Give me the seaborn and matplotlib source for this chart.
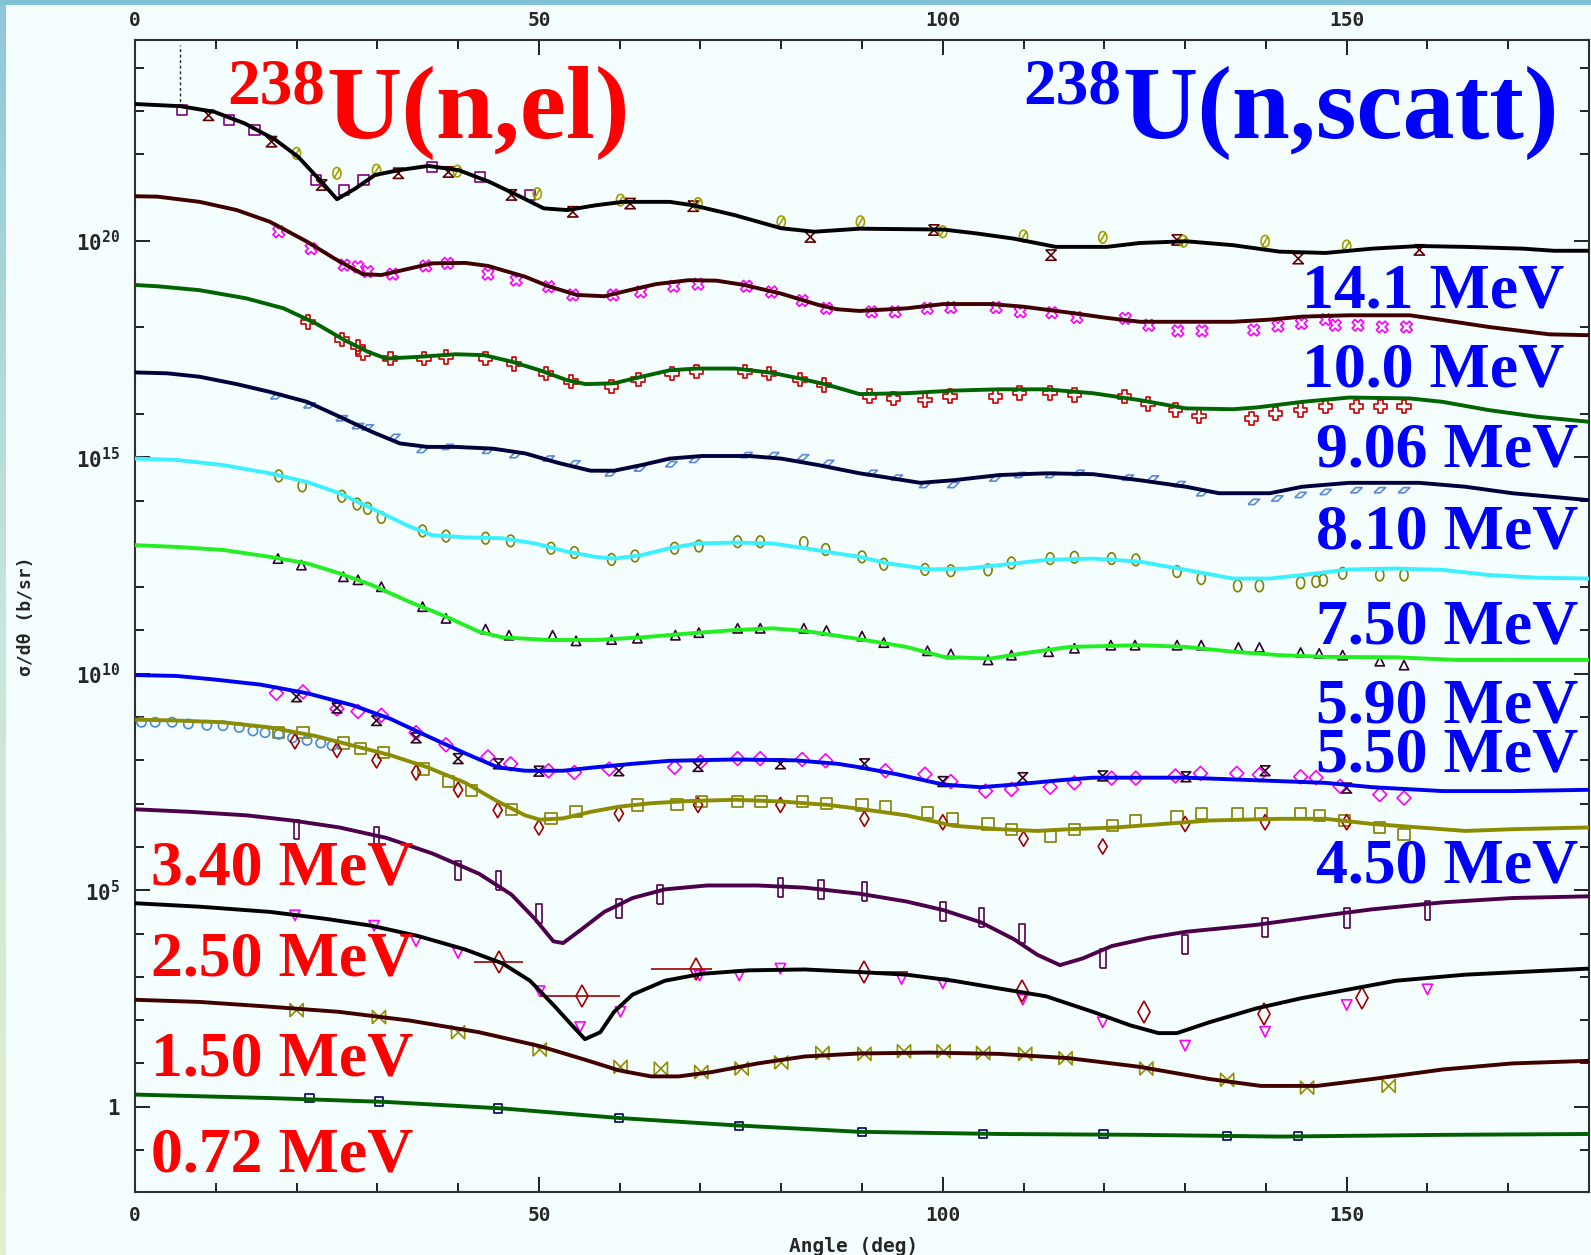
import numpy as np
import pandas as pd
import matplotlib
matplotlib.use("Agg")
import matplotlib.pyplot as plt
import matplotlib.transforms as mtransforms
import seaborn as sns
from matplotlib.ticker import FixedLocator, FixedFormatter, NullFormatter
from matplotlib.path import Path
from matplotlib.colors import LinearSegmentedColormap

# ---------------- data (angles in deg, values as log10 of plotted dσ/dΩ) ----------------
energies = ["14.1", "10.0", "9.06", "8.10", "7.50", "5.90", "5.50", "4.50", "3.40", "2.50", "1.50", "0.72"]

th14_ang = [0, 5.6, 9.8, 13.6, 17.4, 20.2, 23.1, 25.0, 27.3, 29.7, 32.6, 36.3, 40.1, 43.9, 47.7, 50.6, 53.5, 57.0, 60.4, 66.2, 69.1, 74.3, 80.0, 84.1, 89.7, 100.1, 104.2, 108.8, 114.0, 120.3, 124.4, 130.1, 135.9, 141.7, 147.4, 153.2, 159.0, 164.7, 171.7, 175.7, 180.0]
th14_log = [23.16, 23.11, 22.98, 22.71, 22.33, 21.94, 21.36, 20.96, 21.21, 21.52, 21.63, 21.73, 21.63, 21.36, 21.02, 20.75, 20.71, 20.82, 20.90, 20.90, 20.82, 20.59, 20.29, 20.21, 20.28, 20.26, 20.17, 20.05, 19.86, 19.86, 19.95, 19.99, 19.90, 19.75, 19.72, 19.82, 19.88, 19.86, 19.82, 19.77, 19.77]

th10_ang = [0, 2.8, 8.0, 12.6, 16.7, 21.3, 24.7, 28.2, 30.5, 34.0, 36.8, 40.9, 43.7, 48.3, 51.2, 54.7, 58.1, 61.0, 64.5, 68.5, 72.0, 75.4, 80.0, 84.6, 86.9, 89.7, 95.5, 100.1, 105.9, 109.9, 115.7, 120.3, 124.4, 130.1, 135.9, 140.5, 144.6, 150.3, 157.8, 161.9, 167.6, 175.1, 180.0]
th10_log = [21.03, 21.02, 20.90, 20.71, 20.44, 19.98, 19.59, 19.23, 19.21, 19.36, 19.48, 19.49, 19.42, 19.17, 18.95, 18.75, 18.72, 18.85, 19.00, 19.09, 19.08, 18.98, 18.78, 18.52, 18.42, 18.38, 18.44, 18.54, 18.54, 18.48, 18.34, 18.22, 18.13, 18.13, 18.13, 18.18, 18.25, 18.28, 18.28, 18.17, 18.01, 17.84, 17.82]

th906_ang = [0, 2.8, 8.0, 13.8, 18.4, 22.4, 25.9, 28.8, 31.1, 35.1, 39.7, 43.2, 46.6, 50.1, 53.5, 55.8, 59.3, 62.7, 66.2, 69.6, 74.3, 78.9, 82.3, 85.8, 89.7, 95.5, 101.3, 107.0, 112.8, 118.6, 124.4, 130.1, 135.9, 138.8, 144.5, 150.3, 157.8, 161.9, 167.6, 173.4, 180.0]
th906_log = [18.98, 18.95, 18.86, 18.67, 18.44, 18.09, 17.71, 17.44, 17.28, 17.32, 17.38, 17.36, 17.21, 17.01, 16.78, 16.69, 16.71, 16.86, 17.01, 17.05, 17.05, 16.95, 16.82, 16.67, 16.46, 16.48, 16.54, 16.57, 16.57, 16.48, 16.32, 16.13, 16.11, 16.15, 16.28, 16.38, 16.36, 16.28, 16.09, 15.94, 15.82]

th810_ang = [0, 4.0, 8.0, 12.6, 16.7, 21.3, 25.3, 29.3, 32.8, 36.2, 39.7, 44.3, 48.3, 52.4, 56.4, 59.3, 62.7, 66.2, 70.2, 76.0, 80.0, 84.6, 89.7, 93.2, 97.2, 101.3, 107.0, 112.8, 118.6, 124.4, 130.1, 134.2, 140.5, 144.5, 150.3, 159.0, 164.7, 170.5, 180.0]
th810_log = [16.96, 16.94, 16.86, 16.69, 16.51, 16.28, 15.94, 15.59, 15.32, 15.24, 15.24, 15.20, 15.09, 14.87, 14.69, 14.69, 14.82, 14.97, 15.03, 15.03, 14.97, 14.82, 14.63, 14.53, 14.41, 14.47, 14.59, 14.63, 14.61, 14.47, 14.32, 14.17, 14.17, 14.32, 14.41, 14.41, 14.32, 14.17, 14.01]

th750_ang = [0, 5.1, 10.9, 16.7, 21.3, 25.3, 29.3, 34.0, 36.8, 40.9, 45.5, 49.5, 53.5, 57.0, 59.3, 62.7, 66.2, 69.6, 74.3, 78.9, 82.9, 86.9, 89.7, 93.2, 98.4, 103.0, 107.0, 112.8, 118.6, 124.4, 130.1, 135.9, 140.5, 144.5, 150.3, 156.1, 161.9, 167.6, 173.4, 180.0]
th750_log = [14.97, 14.94, 14.82, 14.63, 14.43, 14.17, 13.82, 13.40, 13.20, 13.15, 13.13, 13.01, 12.82, 12.70, 12.66, 12.74, 12.90, 13.01, 13.03, 13.01, 12.90, 12.78, 12.70, 12.55, 12.41, 12.43, 12.51, 12.63, 12.66, 12.59, 12.40, 12.20, 12.20, 12.28, 12.41, 12.43, 12.40, 12.28, 12.22, 12.20]

th590_ang = [0, 5.1, 10.9, 16.7, 21.3, 25.3, 29.3, 34.0, 38.5, 42.6, 45.5, 51.2, 57.0, 62.7, 68.5, 74.3, 78.9, 82.9, 89.7, 95.5, 100.1, 105.9, 109.9, 115.7, 124.4, 130.1, 135.9, 141.7, 147.4, 156.1, 163.6, 170.5, 180.0]
th590_log = [12.97, 12.93, 12.86, 12.70, 12.55, 12.32, 12.05, 11.66, 11.32, 10.97, 10.84, 10.78, 10.78, 10.84, 10.93, 11.01, 11.05, 10.99, 10.80, 10.62, 10.39, 10.35, 10.47, 10.62, 10.66, 10.62, 10.51, 10.43, 10.39, 10.38, 10.32, 10.32, 10.32]

th550_ang = [0, 5.1, 9.7, 15.5, 21.3, 27.0, 31.6, 36.2, 40.9, 44.9, 48.3, 53.0, 57.0, 61.6, 66.2, 74.3, 81.8, 87.0, 89.7, 94.3, 100.1, 104.7, 108.8, 114.5, 118.6, 130.1, 138.8, 147.4, 153.2, 161.9, 170.5, 180.0]
th550_log = [9.97, 9.95, 9.87, 9.75, 9.55, 9.27, 8.96, 8.56, 8.16, 7.84, 7.76, 7.76, 7.84, 7.92, 7.99, 8.02, 8.00, 7.92, 7.84, 7.68, 7.44, 7.38, 7.44, 7.54, 7.60, 7.60, 7.54, 7.48, 7.38, 7.29, 7.29, 7.32]

th450_ang = [0, 5.1, 10.9, 16.7, 22.4, 27.0, 31.6, 36.2, 40.9, 44.9, 48.3, 50.1, 53.0, 56.4, 59.9, 63.9, 68.5, 74.3, 80.0, 85.8, 89.7, 95.5, 101.3, 107.0, 111.7, 115.7, 121.5, 127.2, 133.0, 141.7, 147.4, 153.2, 159.0, 164.7, 170.5, 180.0]
th450_log = [8.94, 8.92, 8.88, 8.76, 8.56, 8.34, 8.12, 7.84, 7.48, 7.05, 6.73, 6.63, 6.66, 6.81, 6.93, 7.01, 7.06, 7.09, 7.05, 6.97, 6.88, 6.73, 6.49, 6.41, 6.37, 6.41, 6.45, 6.53, 6.61, 6.65, 6.65, 6.53, 6.45, 6.37, 6.41, 6.45]

th340_ang = [0, 6.9, 13.8, 19.5, 25.3, 31.1, 36.8, 42.6, 46.6, 49.5, 51.8, 53.0, 55.3, 58.1, 61.6, 65.6, 70.8, 77.1, 82.9, 89.7, 95.5, 100.1, 104.7, 108.8, 111.7, 114.5, 117.4, 120.9, 125.5, 130.1, 138.8, 147.4, 153.2, 161.9, 170.5, 180.0]
th340_log = [6.87, 6.81, 6.73, 6.61, 6.45, 6.21, 5.85, 5.38, 4.90, 4.34, 3.82, 3.78, 4.10, 4.50, 4.82, 5.02, 5.11, 5.11, 5.06, 4.92, 4.74, 4.54, 4.26, 3.87, 3.51, 3.27, 3.43, 3.71, 3.90, 4.04, 4.20, 4.42, 4.56, 4.72, 4.82, 4.86]

th250_ang = [0, 8.0, 16.7, 23.6, 29.3, 35.1, 40.9, 45.5, 48.9, 51.8, 54.1, 55.7, 57.6, 59.3, 61.6, 65.6, 70.2, 76.0, 82.9, 89.7, 95.5, 101.3, 107.0, 112.8, 118.6, 123.2, 126.7, 129.0, 133.0, 138.8, 144.5, 150.3, 156.1, 164.7, 173.4, 180.0]
th250_log = [4.70, 4.62, 4.50, 4.34, 4.18, 3.94, 3.63, 3.31, 2.91, 2.35, 1.88, 1.56, 1.72, 2.19, 2.59, 2.91, 3.07, 3.15, 3.17, 3.11, 3.05, 2.91, 2.73, 2.55, 2.19, 1.88, 1.70, 1.70, 1.95, 2.27, 2.51, 2.71, 2.91, 3.05, 3.13, 3.19]

th150_ang = [0, 8.0, 16.7, 25.3, 34.0, 42.6, 50.1, 55.8, 59.9, 63.9, 67.3, 71.4, 77.1, 82.9, 89.7, 98.4, 107.0, 115.7, 124.4, 133.0, 139.4, 146.3, 153.2, 161.9, 170.5, 180.0]
th150_log = [2.47, 2.42, 2.31, 2.19, 1.99, 1.72, 1.40, 1.08, 0.84, 0.70, 0.70, 0.80, 1.00, 1.16, 1.23, 1.25, 1.22, 1.12, 0.92, 0.64, 0.48, 0.48, 0.64, 0.86, 1.00, 1.06]

th072_ang = [0, 16.7, 31.1, 45.5, 59.9, 74.3, 89.7, 107.0, 124.4, 141.7, 161.9, 180.0]
th072_log = [0.28, 0.20, 0.11, -0.04, -0.26, -0.43, -0.58, -0.63, -0.65, -0.69, -0.65, -0.63]

# experimental points
m14_tri_ang = [9.1, 16.9, 23.1, 32.6, 38.8, 46.6, 54.2, 61.3, 69.1, 83.6, 98.9, 113.4, 129.0, 144.0, 159.0]
m14_tri_log = [22.90, 22.29, 21.29, 21.56, 21.59, 21.06, 20.67, 20.86, 20.80, 20.09, 20.25, 19.67, 20.02, 19.59, 19.79]
m14_sq_ang = [5.8, 11.6, 14.8, 22.4, 25.9, 28.3, 36.8, 42.7, 48.9]
m14_sq_log = [23.02, 22.79, 22.56, 21.40, 21.17, 21.40, 21.71, 21.48, 21.06]
m14_cir_ang = [20.0, 25.0, 29.9, 39.9, 49.8, 60.1, 69.7, 80.0, 89.8, 100.0, 110.0, 119.8, 129.8, 139.9, 150.0]
m14_cir_log = [22.02, 21.56, 21.63, 21.61, 21.09, 20.94, 20.86, 20.44, 20.44, 20.21, 20.11, 20.08, 19.99, 19.99, 19.88]
m14_bar_ang = [5.6]
m14_bar_lo = [23.09]
m14_bar_hi = [24.52]

m10_ang = [17.8, 21.8, 25.9, 27.6, 28.8, 31.9, 36.0, 38.7, 43.7, 47.2, 51.2, 54.2, 59.2, 62.6, 66.7, 69.7, 75.7, 78.8, 82.6, 85.6, 91.2, 94.1, 98.1, 101.0, 106.6, 109.6, 113.5, 116.6, 122.6, 125.5, 129.1, 132.1, 138.5, 141.5, 144.4, 147.4, 148.6, 151.4, 154.4, 157.4]
m10_log = [20.21, 19.82, 19.44, 19.40, 19.29, 19.23, 19.42, 19.48, 19.23, 19.09, 18.94, 18.75, 18.75, 18.82, 18.95, 19.00, 18.95, 18.82, 18.62, 18.44, 18.36, 18.36, 18.44, 18.46, 18.46, 18.36, 18.34, 18.23, 18.21, 18.05, 17.92, 17.92, 17.94, 18.03, 18.09, 18.18, 18.05, 18.05, 18.01, 18.01]

m906_ang = [21.4, 25.6, 27.6, 28.2, 31.6, 35.8, 38.5, 43.4, 46.9, 50.9, 54.0, 59.0, 62.3, 66.5, 69.5, 75.5, 78.5, 82.3, 85.3, 90.9, 93.9, 97.8, 100.9, 106.5, 109.5, 113.3, 116.3, 122.5, 125.4, 128.8, 131.7, 138.2, 141.2, 144.3, 147.4, 151.2, 154.2, 157.1]
m906_log = [18.13, 17.72, 17.55, 17.40, 17.28, 17.28, 17.32, 17.28, 17.15, 16.94, 16.75, 16.64, 16.80, 16.94, 16.98, 16.98, 16.94, 16.80, 16.67, 16.41, 16.36, 16.32, 16.41, 16.41, 16.48, 16.48, 16.44, 16.40, 16.23, 16.09, 15.95, 15.90, 16.01, 16.09, 16.17, 16.17, 16.17, 16.17]

m810_ang = [17.5, 21.6, 25.6, 27.6, 28.8, 32.1, 35.6, 38.7, 43.7, 47.1, 51.2, 54.4, 58.9, 62.5, 66.4, 69.3, 75.7, 79.0, 82.7, 85.8, 91.2, 94.3, 97.8, 101.3, 106.5, 109.6, 113.4, 116.8, 122.9, 126.0, 129.3, 132.1, 138.5, 141.4, 144.3, 147.4, 151.2, 154.1, 157.1]
m810_log = [16.41, 16.20, 15.90, 15.72, 15.69, 15.47, 15.17, 15.24, 15.15, 15.05, 14.97, 14.86, 14.63, 14.74, 14.84, 14.94, 15.05, 15.05, 15.00, 14.87, 14.64, 14.53, 14.36, 14.36, 14.51, 14.59, 14.59, 14.64, 14.53, 14.51, 14.38, 14.17, 13.97, 14.05, 14.13, 14.20, 14.24, 14.24, 14.24]

m750_ang = [17.8, 20.7, 25.6, 27.5, 28.8, 30.5, 35.6, 38.5, 43.4, 46.5, 51.5, 54.4, 59.0, 61.9, 66.8, 69.8, 74.6, 77.4, 82.8, 85.5, 90.0, 92.7, 97.8, 101.0, 105.6, 108.5, 113.3, 116.3, 120.9, 123.9, 129.0, 132.0, 136.5, 139.2, 144.3, 146.2, 147.1, 149.5, 154.1, 157.1]
m750_log = [14.57, 14.34, 14.10, 13.92, 13.82, 13.61, 13.30, 13.18, 13.13, 13.07, 12.90, 12.80, 12.64, 12.72, 12.90, 12.95, 13.05, 13.05, 13.03, 12.87, 12.70, 12.53, 12.41, 12.38, 12.40, 12.56, 12.66, 12.69, 12.66, 12.63, 12.36, 12.20, 12.03, 12.03, 12.10, 12.13, 12.16, 12.32, 12.28, 12.28]

m590_ang = [17.7, 20.6, 25.8, 27.6, 30.5, 35.6, 38.5, 43.4, 46.3, 51.7, 54.6, 59.0, 62.2, 66.9, 69.8, 74.6, 77.4, 82.8, 85.6, 90.0, 92.7, 98.1, 101.0, 105.6, 108.5, 113.1, 116.3, 120.8, 123.8, 129.0, 132.0, 136.6, 139.2, 144.3, 146.6, 149.5, 154.1, 157.1]
m590_log = [12.66, 12.51, 12.24, 12.17, 12.01, 11.55, 11.28, 11.03, 10.89, 10.89, 10.76, 10.79, 10.82, 10.89, 10.95, 11.05, 11.05, 11.05, 11.00, 10.87, 10.72, 10.53, 10.46, 10.32, 10.43, 10.51, 10.59, 10.66, 10.66, 10.66, 10.66, 10.61, 10.61, 10.49, 10.47, 10.43, 10.29, 10.20]

m550d_ang = [17.5, 20.8, 25.0, 27.6, 30.5, 34.8, 38.5, 43.7, 46.5, 51.2, 54.4, 58.7, 66.8, 70.0, 74.6, 77.4, 82.6, 85.5, 92.9, 97.8, 101.0, 105.3, 108.5, 113.3, 116.3, 120.9, 123.9, 128.8, 131.9, 136.4, 139.2, 144.3, 146.2, 149.2, 154.1, 157.1]
m550d_log = [9.55, 9.58, 9.19, 9.13, 9.04, 8.64, 8.36, 8.08, 7.92, 7.76, 7.72, 7.80, 7.84, 7.96, 8.04, 8.04, 8.02, 7.99, 7.76, 7.68, 7.51, 7.29, 7.33, 7.38, 7.48, 7.59, 7.59, 7.64, 7.70, 7.70, 7.67, 7.62, 7.60, 7.40, 7.21, 7.13]
m550h_ang = [20.0, 25.0, 29.9, 34.8, 40.0, 45.0, 50.0, 59.9, 69.7, 79.9, 90.3, 100.0, 109.9, 119.8, 130.1, 139.9, 150.0]
m550h_log = [9.47, 9.21, 8.92, 8.52, 8.04, 7.92, 7.75, 7.76, 7.86, 7.92, 7.92, 7.51, 7.60, 7.64, 7.62, 7.76, 7.36]

m450s_ang = [17.8, 20.8, 25.8, 27.9, 30.8, 35.7, 38.8, 41.7, 46.6, 51.5, 54.6, 62.2, 67.1, 70.1, 74.6, 77.5, 82.6, 85.6, 90.0, 92.9, 98.1, 101.2, 105.6, 108.5, 113.3, 116.3, 121.0, 123.9, 129.0, 132.0, 136.5, 139.4, 144.3, 146.6, 149.7, 154.1, 157.1]
m450s_log = [8.64, 8.64, 8.40, 8.28, 8.18, 7.80, 7.52, 7.30, 6.87, 6.65, 6.81, 6.97, 6.98, 7.05, 7.05, 7.05, 7.05, 7.01, 6.97, 6.93, 6.79, 6.65, 6.53, 6.40, 6.25, 6.40, 6.49, 6.61, 6.69, 6.77, 6.77, 6.77, 6.77, 6.73, 6.61, 6.45, 6.29]
m450c_ang = [0.8, 2.5, 4.6, 6.6, 8.9, 10.9, 12.9, 14.6, 16.1, 17.8, 19.5, 21.3, 23.0, 24.4]
m450c_log = [8.88, 8.88, 8.88, 8.84, 8.81, 8.80, 8.76, 8.68, 8.64, 8.60, 8.52, 8.46, 8.40, 8.34]
m450d_ang = [19.8, 25.0, 29.9, 34.8, 40.0, 44.9, 50.0, 59.9, 69.7, 79.9, 90.3, 100.0, 110.0, 119.8, 130.0, 139.9, 150.0]
m450d_log = [8.44, 8.24, 8.00, 7.72, 7.32, 6.85, 6.45, 6.77, 6.97, 6.97, 6.65, 6.57, 6.19, 6.01, 6.53, 6.57, 6.57]

m340_ang = [20.0, 29.9, 40.0, 45.0, 50.0, 59.9, 65.0, 79.9, 84.9, 90.3, 100.0, 104.8, 109.8, 119.8, 130.0, 139.9, 150.0, 160.0]
m340_log = [6.41, 6.25, 5.46, 5.22, 4.46, 4.58, 4.90, 5.06, 5.02, 4.98, 4.50, 4.38, 4.01, 3.43, 3.75, 4.14, 4.36, 4.54]

m250t_ang = [19.8, 29.6, 34.8, 40.0, 50.1, 55.1, 60.1, 69.9, 74.8, 79.9, 94.9, 100.0, 109.9, 119.8, 130.0, 139.9, 150.0, 160.0]
m250t_log = [4.42, 4.18, 3.82, 3.55, 2.67, 1.84, 2.19, 3.03, 3.03, 3.19, 2.95, 2.85, 2.47, 1.95, 1.41, 1.73, 2.35, 2.71]
m250d_ang = [45.0, 55.3, 69.5, 90.3, 109.8, 124.9, 139.8, 151.9]
m250d_log = [3.35, 2.55, 3.19, 3.11, 2.67, 2.19, 2.15, 2.51]
m250d_xlo = [3.0, 5.2, 5.6, 0.5, 0, 0, 0, 0]
m250d_xhi = [3.0, 4.8, 1.9, 5.4, 0, 0, 0, 0]

m150_ang = [20.0, 30.2, 40.0, 50.1, 60.1, 65.1, 70.1, 75.1, 80.0, 85.1, 90.3, 95.2, 100.1, 105.0, 110.2, 115.2, 125.2, 135.2, 145.1, 155.2]
m150_log = [2.23, 2.07, 1.72, 1.32, 0.92, 0.88, 0.80, 0.88, 1.02, 1.24, 1.22, 1.28, 1.28, 1.24, 1.22, 1.12, 0.88, 0.62, 0.44, 0.48]

m072_ang = [21.6, 30.2, 44.9, 59.9, 74.8, 90.0, 105.0, 119.9, 135.2, 144.0]
m072_log = [0.20, 0.12, -0.04, -0.26, -0.45, -0.58, -0.63, -0.63, -0.67, -0.67]

major_exp = [0, 5, 10, 15, 20]
major_labels = ["1", r"$\mathbf{10^{5}}$", r"$\mathbf{10^{10}}$", r"$\mathbf{10^{15}}$", r"$\mathbf{10^{20}}$"]
minor_exp = [24, 23, 22, 18, 16, 14, 12, 11, 9, 8, 7, 6, 4, 3, 2, 1, -1]
x_major = [0, 50, 100, 150]
x_minor = [10, 20, 30, 40, 60, 70, 80, 90, 110, 120, 130, 140, 160, 170]

blue_labels = ["14.1 MeV", "10.0 MeV", "9.06 MeV", "8.10 MeV", "7.50 MeV", "5.90 MeV", "5.50 MeV", "4.50 MeV"]
red_labels = ["3.40 MeV", "2.50 MeV", "1.50 MeV", "0.72 MeV"]

# ---------------- styling ----------------
sns.set_style("ticks")
BG = "#f4fefe"
plt.rcParams.update({
    "font.family": ["DejaVu Sans Mono"],
    "font.weight": "bold",
    "mathtext.fontset": "custom",
    "mathtext.bf": "DejaVu Sans Mono:bold",
    "mathtext.rm": "DejaVu Sans Mono",
    "axes.edgecolor": "#303030",
    "axes.linewidth": 1.5,
})

curve_colors = {"14.1": "#000000", "10.0": "#400000", "9.06": "#006400", "8.10": "#00003c",
                "7.50": "#3cf0ff", "5.90": "#22ee22", "5.50": "#0000f0", "4.50": "#8c8c00",
                "3.40": "#4c004c", "2.50": "#000000", "1.50": "#400000", "0.72": "#006000"}

theory = [("14.1", th14_ang, th14_log), ("10.0", th10_ang, th10_log), ("9.06", th906_ang, th906_log),
          ("8.10", th810_ang, th810_log), ("7.50", th750_ang, th750_log), ("5.90", th590_ang, th590_log),
          ("5.50", th550_ang, th550_log), ("4.50", th450_ang, th450_log), ("3.40", th340_ang, th340_log),
          ("2.50", th250_ang, th250_log), ("1.50", th150_ang, th150_log), ("0.72", th072_ang, th072_log)]
df = pd.concat([pd.DataFrame({"angle": a, "xs": 10.0 ** np.array(l), "energy": e}) for e, a, l in theory],
               ignore_index=True)

W, H = 1591, 1255
fig = plt.figure(figsize=(W / 100, H / 100), dpi=100, facecolor=BG)
ax = fig.add_axes([135 / W, 1 - 1192 / H, (1589 - 135) / W, (1192 - 39.5) / H])
ax.set_facecolor(BG)

# custom marker shapes
parallelogram = [(-1, -0.45), (0.1, -0.45), (1, 0.45), (-0.1, 0.45), (-1, -0.45)]
hourglass = [(-1, 1), (1, 1), (-1, -1), (1, -1), (-1, 1)]
bowtie = [(-1, -1), (-1, 1), (1, -1), (1, 1), (-1, -1)]
slim_rect = [(-0.3, -1), (0.3, -1), (0.3, 1), (-0.3, 1), (-0.3, -1)]
_circ = Path.unit_circle()
ellipse_v = Path(_circ.vertices * np.array([0.7, 1.0]), _circ.codes)
slashed = Path.make_compound_path(ellipse_v, Path([(-0.45, -0.75), (0.45, 0.75)], [Path.MOVETO, Path.LINETO]))

markers = [
    (m14_tri_ang, m14_tri_log, hourglass, "#600000", 55),
    (m14_sq_ang, m14_sq_log, "s", "#800080", 55),
    (m14_cir_ang, m14_cir_log, slashed, "#a0a000", 70),
    (m10_ang, m10_log, "X", "#ff00ff", 70),
    (m906_ang, m906_log, "P", "#cc0000", 95),
    (m810_ang, m810_log, parallelogram, "#5a8ad8", 70),
    (m750_ang, m750_log, ellipse_v, "#808000", 70),
    (m590_ang, m590_log, "^", "#300030", 45),
    (m550d_ang, m550d_log, "D", "#ff00ff", 50),
    (m550h_ang, m550h_log, hourglass, "#300020", 50),
    (m450s_ang, m450s_log, "s", "#808000", 65),
    (m450c_ang, m450c_log, "o", "#4a8ad0", 45),
    (m450d_ang, m450d_log, "d", "#a00000", 60),
    (m340_ang, m340_log, slim_rect, "#500050", 190),
    (m250t_ang, m250t_log, "v", "#ff00ff", 55),
    (m150_ang, m150_log, bowtie, "#909000", 90),
    (m072_ang, m072_log, "s", "#000060", 35),
]
for a, l, mk, c, s in markers:
    ax.scatter(a, 10.0 ** np.array(l), marker=mk, s=s, facecolors="none", edgecolors=c,
               linewidths=1.2, zorder=3)

# 2.50 MeV points with horizontal bars
ax.errorbar(m250d_ang, 10.0 ** np.array(m250d_log), xerr=[m250d_xlo, m250d_xhi], fmt="d",
            mfc="none", mec="#a00000", ecolor="#a00000", ms=11, mew=1.2, elinewidth=1.2, zorder=3)
ax.vlines(m14_bar_ang, 10.0 ** np.array(m14_bar_lo), 10.0 ** np.array(m14_bar_hi),
          colors="#202020", linestyles=(0, (2, 2)), linewidth=1.0, zorder=3)

sns.lineplot(data=df, x="angle", y="xs", hue="energy", palette=curve_colors, estimator=None,
             sort=False, legend=False, linewidth=2.8, ax=ax, zorder=4)

ax.set_yscale("log")
ax.set_xlim(0, 180)
ax.set_ylim(10 ** -1.97, 10 ** 24.65)

ax.xaxis.set_major_locator(FixedLocator(x_major))
ax.xaxis.set_minor_locator(FixedLocator(x_minor))
ax.yaxis.set_major_locator(FixedLocator([10.0 ** e for e in major_exp]))
ax.yaxis.set_major_formatter(FixedFormatter(major_labels))
ax.yaxis.set_minor_locator(FixedLocator([10.0 ** e for e in minor_exp]))
ax.yaxis.set_minor_formatter(NullFormatter())

ax.tick_params(which="both", direction="in", top=True, right=True, labeltop=False,
               labelbottom=True, labelleft=True, labelright=False, color="#202020", width=1.4)
ax.tick_params(which="major", length=11)
ax.tick_params(which="minor", length=6.5)
ax.tick_params(axis="x", which="major", labelsize=14, pad=10)
ax.tick_params(axis="y", which="major", labelsize=15, pad=11)

# top tick labels (sit closer to the frame than the bottom ones)
top_tr = mtransforms.blended_transform_factory(ax.transData, ax.transAxes)
for v in x_major:
    ax.text(v, 1.0 + 19 / 1152.5, str(v), transform=top_tr, ha="center", va="center",
            fontsize=14, fontweight="bold", clip_on=False)

ax.set_xlabel("Angle (deg)", fontsize=14, fontweight="bold", va="top")
ax.xaxis.set_label_coords(0.494, -0.039)
ax.set_ylabel("σ/dθ (b/sr)", fontsize=13, fontweight="bold")
ax.yaxis.set_label_coords(-0.069, 0.5)

# ---------------- annotations ----------------
serif = ["Liberation Serif", "DejaVu Serif"]
fig.text(325 / W, 1 - 103 / H, "238", color="#ff0000", fontsize=47, fontweight="bold",
         family=serif, ha="right", va="baseline")
fig.text(326 / W, 1 - 138 / H, "U(n,el)", color="#ff0000", fontsize=75, fontweight="bold",
         family=serif, ha="left", va="baseline")
fig.text(1121 / W, 1 - 103 / H, "238", color="#0000ff", fontsize=47, fontweight="bold",
         family=serif, ha="right", va="baseline")
fig.text(1122 / W, 1 - 138 / H, "U(n,scatt)", color="#0000ff", fontsize=75, fontweight="bold",
         family=serif, ha="left", va="baseline")

blue_y = [308, 386.7, 466.7, 548.3, 643.3, 722.3, 771.2, 882.4]
blue_x = [1564, 1564, 1578, 1578, 1578, 1578, 1578, 1578]
for lab, yy, xx in zip(blue_labels, blue_y, blue_x):
    fig.text(xx / W, 1 - yy / H, lab, color="#0000ff", fontsize=46, fontweight="bold",
             family=serif, ha="right", va="baseline")
red_y = [884.2, 975.4, 1075.3, 1171.7]
for lab, yy in zip(red_labels, red_y):
    fig.text(151 / W, 1 - yy / H, lab, color="#ff0000", fontsize=46, fontweight="bold",
             family=serif, ha="left", va="baseline")

# frame decoration (top strip and left gradient edge)
top = fig.add_axes([0, 1 - 5 / H, 1, 5 / H])
top.set_facecolor("#82c2d6")
top.set_xticks([]); top.set_yticks([])
for sp in top.spines.values():
    sp.set_visible(False)
left = fig.add_axes([0, 0, 6 / W, 1 - 5 / H])
grad = np.linspace(0, 1, 256).reshape(-1, 1)
cmap = LinearSegmentedColormap.from_list("edge", ["#8ec8d8", "#c8e6dc", "#e4f0cc"])
left.imshow(grad, aspect="auto", cmap=cmap, extent=[0, 1, 0, 1])
left.set_xticks([]); left.set_yticks([])
for sp in left.spines.values():
    sp.set_visible(False)

fig.savefig("out.png", dpi=100, facecolor=BG)
